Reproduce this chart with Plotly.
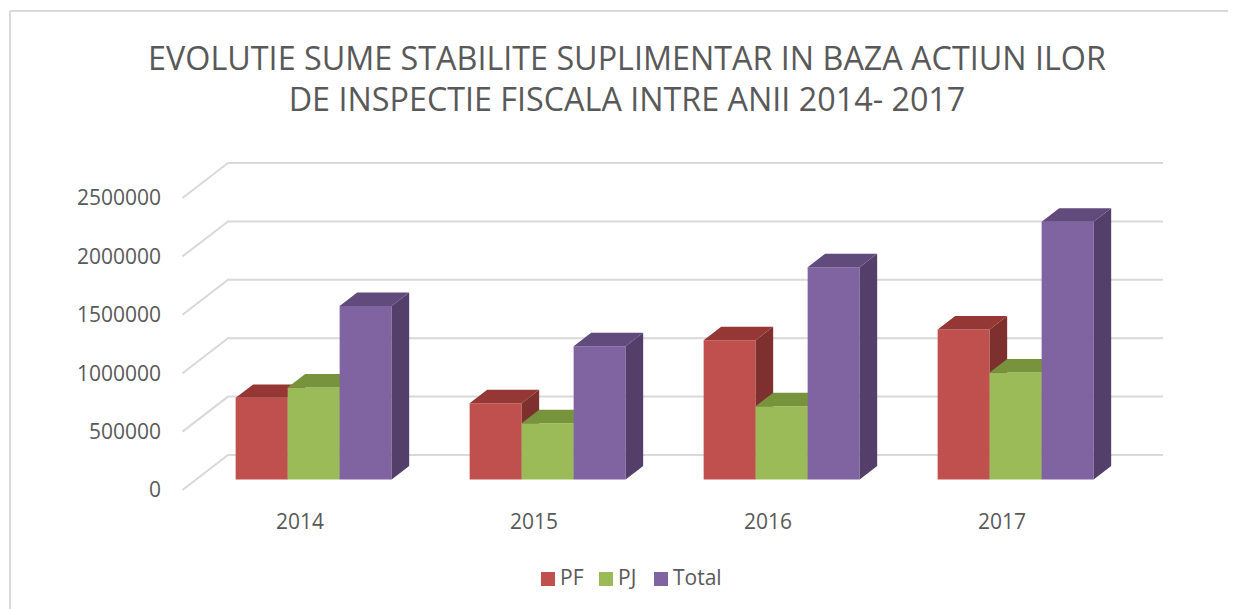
import plotly.graph_objects as go

years = ["2014", "2015", "2016", "2017"]
pf = [699000, 653000, 1193000, 1284000]
pj = [788000, 482000, 628000, 916000]
total = [1486000, 1141000, 1818000, 2206000]
y_ticks = [0, 500000, 1000000, 1500000, 2000000, 2500000]

PAGE = 8                              # the page's default body margin
W, H = 1236 - PAGE, 609 - PAGE
L, R, T, B = 154, 1167, 142, 499      # plot area in figure pixels
GROUP_PX = 234.0
X0_PX = 292.0                         # figure x of the first category on the front wall
Y0_PX = 482.0                         # figure y of value 0 on the front wall
UNIT_PX = 58.4 / 500000
WALL_DX, WALL_DY = 45.5, 35.0         # oblique shift from the front wall to the back wall
BAR_NEAR = 0.30                       # depth of the bars' front faces
BAR_FAR = 0.685                       # depth of the bars' back faces
BAR_W = 52.0 / GROUP_PX

x_range = [(L - X0_PX) / GROUP_PX, (R - X0_PX) / GROUP_PX]
y_range = [(Y0_PX - B) / UNIT_PX, (Y0_PX - T) / UNIT_PX]


def project(x, v, depth):
    return x + depth * WALL_DX / GROUP_PX, v + depth * WALL_DY / UNIT_PX


fig = go.Figure()

# wall gridlines: front wall -> back corner -> along the back wall
gx, gy = [], []
left_end = (174.5 - X0_PX) / GROUP_PX
right_end = (1155 - X0_PX) / GROUP_PX
for v in y_ticks:
    a = project(left_end, v, 0)
    b = project(left_end, v, 1)
    gx += [a[0], b[0], right_end, None]
    gy += [a[1], b[1], b[1], None]
fig.add_trace(go.Scatter(x=gx, y=gy, mode="lines", showlegend=False, hoverinfo="skip",
                         line=dict(color="#D9D9D9", width=2), yaxis="y"))

series = [
    ("PF", pf, "#C0504D", "#953735", "#7E302E", "y2", -1),
    ("PJ", pj, "#9BBB59", "#77933C", "#647C38", "y3", 0),
    ("Total", total, "#8064A2", "#614A7C", "#533F69", "y4", 1),
]

for name, vals, front, top, side, axis, k in series:
    tx, ty, sx, sy = [], [], [], []
    floor = project(0, 0, BAR_NEAR)[1]
    xs = []
    for i, v in enumerate(vals):
        xc = i + k * BAR_W
        xl, xr = xc - BAR_W / 2, xc + BAR_W / 2
        corners = [(xl, v, BAR_NEAR), (xr, v, BAR_NEAR), (xr, v, BAR_FAR), (xl, v, BAR_FAR)]
        for c in corners + [corners[0]]:
            p = project(*c)
            tx.append(p[0]); ty.append(p[1])
        tx.append(None); ty.append(None)
        corners = [(xr, 0, BAR_NEAR), (xr, v, BAR_NEAR), (xr, v, BAR_FAR), (xr, 0, BAR_FAR)]
        for c in corners + [corners[0]]:
            p = project(*c)
            sx.append(p[0]); sy.append(p[1])
        sx.append(None); sy.append(None)
        xs.append(project(xc, 0, BAR_NEAR)[0])
    fig.add_trace(go.Scatter(x=sx, y=sy, mode="lines", fill="toself", fillcolor=side,
                             line=dict(width=0, color=side), showlegend=False,
                             hoverinfo="skip", yaxis=axis))
    fig.add_trace(go.Scatter(x=tx, y=ty, mode="lines", fill="toself", fillcolor=top,
                             line=dict(width=0, color=top), showlegend=False,
                             hoverinfo="skip", yaxis=axis))
    fig.add_trace(go.Bar(x=xs, y=vals, base=[floor] * len(vals), width=BAR_W, name=name,
                         marker=dict(color=front, line=dict(width=0)), yaxis=axis,
                         showlegend=False))

TEXT = "#595959"
FONT = "Open Sans"
pw, ph = R - L, B - T


def px(x):
    return (x - L) / pw


def py(y):
    return (B - y) / ph


frame = dict(type="line", xref="paper", yref="paper", line=dict(color="#D9D9D9", width=2))
shapes = [
    dict(frame, x0=px(2), x1=px(2), y0=py(H), y1=py(3)),
    dict(frame, x0=px(2), x1=px(W), y0=py(3), y1=py(3)),
]

# legend row: swatch and label for each series (figure pixels)
annotations = []
legend_slots = [(533, 549.5), (591, 607.5), (646, 662.5)]
for (name, _, front, *_rest), (sw, tx_left) in zip(series, legend_slots):
    shapes.append(dict(type="rect", xref="paper", yref="paper", x0=px(sw), x1=px(sw + 14),
                       y0=py(578), y1=py(564), fillcolor=front, line=dict(width=0)))
    annotations.append(dict(text=name, xref="paper", yref="paper", x=px(tx_left), y=py(569),
                            xanchor="left", yanchor="middle", showarrow=False,
                            font=dict(size=21, color=TEXT, family=FONT)))

fig.update_layout(
    width=W, height=H, autosize=False,
    margin=dict(l=L, r=W - R, t=T, b=H - B),
    paper_bgcolor="white", plot_bgcolor="rgba(0,0,0,0)",
    barmode="overlay",
    font=dict(family=FONT, color=TEXT, size=21),
    title=dict(text="EVOLUTIE SUME STABILITE SUPLIMENTAR IN BAZA ACTIUN ILOR<br>DE INSPECTIE FISCALA INTRE ANII 2014- 2017",
               x=619 / W, xanchor="center", y=1 - 61.5 / H, yanchor="top",
               font=dict(family=FONT, size=32.3, color=TEXT)),
    xaxis=dict(range=x_range, tickmode="array", tickvals=list(range(4)), ticktext=years,
               showgrid=False, zeroline=False, showline=False, ticks="",
               tickfont=dict(size=21, color=TEXT)),
    yaxis=dict(range=y_range, tickmode="array", tickvals=y_ticks, showgrid=False,
               zeroline=False, showline=False, ticks="", tickformat="d",
               tickfont=dict(size=21, color=TEXT)),
    yaxis2=dict(range=y_range, overlaying="y", visible=False),
    yaxis3=dict(range=y_range, overlaying="y", visible=False),
    yaxis4=dict(range=y_range, overlaying="y", visible=False),
    shapes=shapes,
    annotations=annotations,
    showlegend=False,
)

fig.write_html("out.html")
